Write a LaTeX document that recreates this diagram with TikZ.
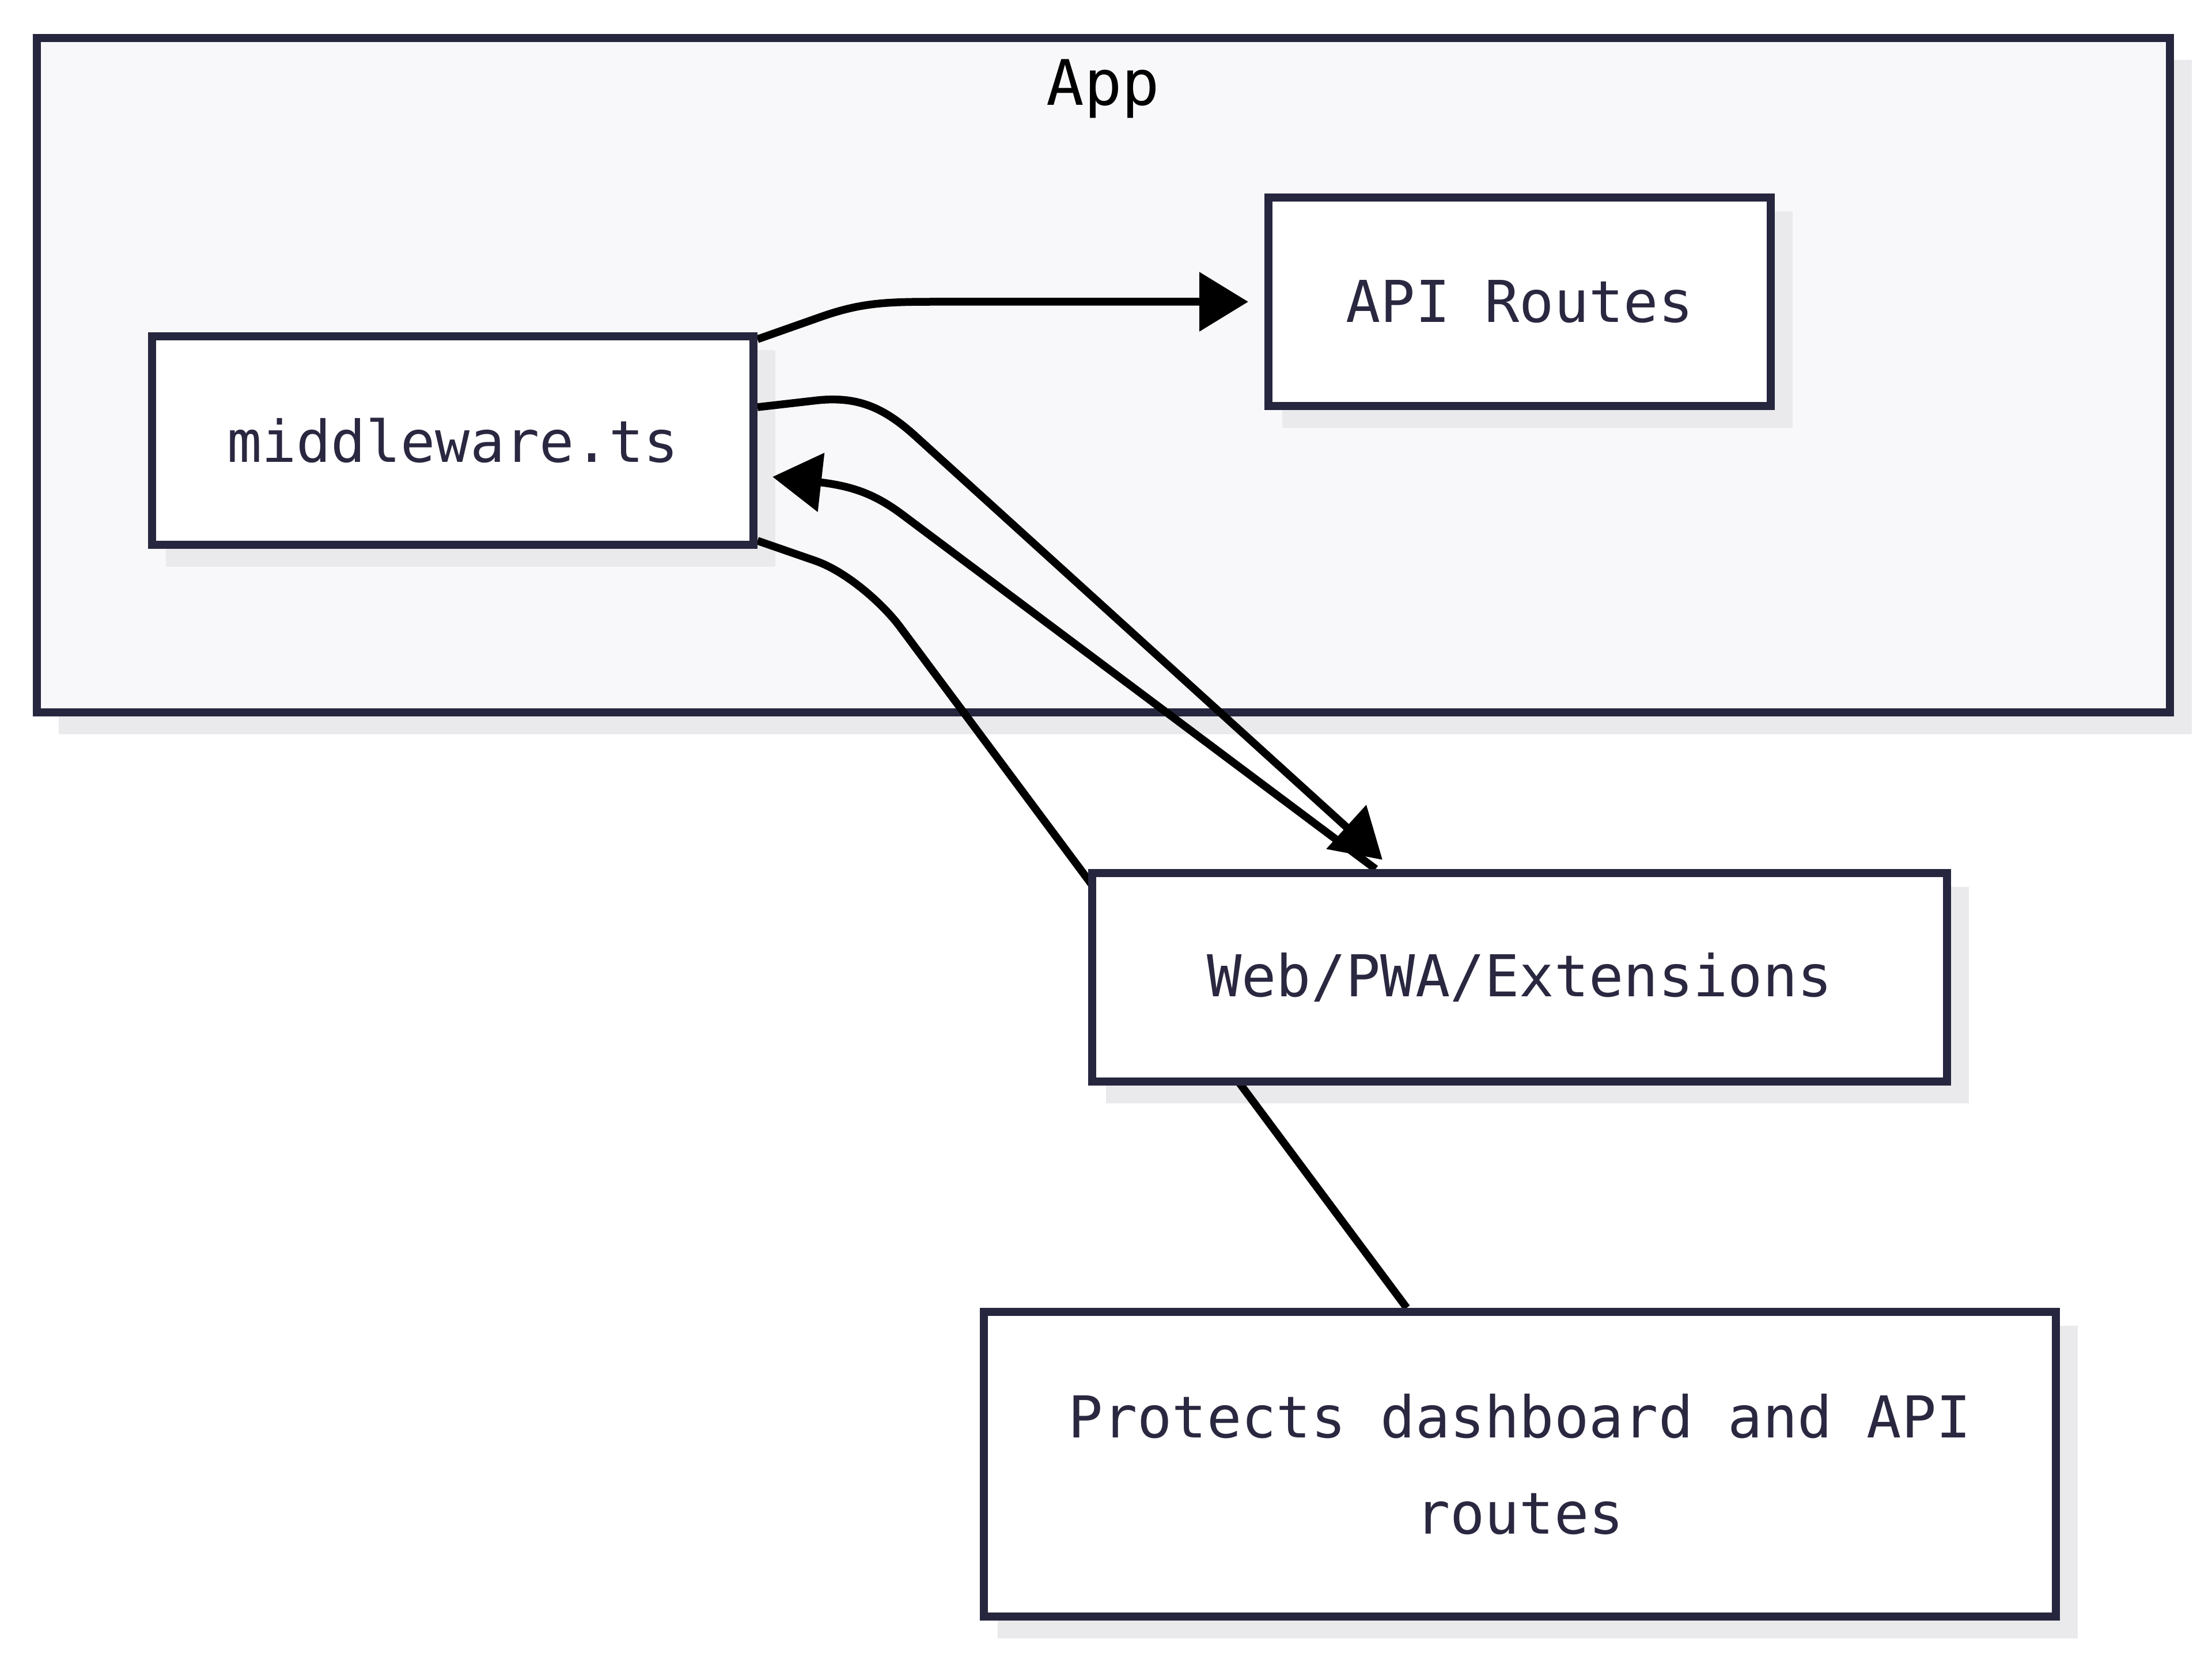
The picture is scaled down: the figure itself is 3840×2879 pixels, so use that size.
\documentclass[tikz,border=0pt]{standalone}
\usepackage{fontspec}
\setmainfont{DejaVu Sans Mono}
\usetikzlibrary{positioning,arrows.meta,shadows}
\definecolor{boxline}{RGB}{38,38,62}
\definecolor{boxtext}{RGB}{42,40,64}
\definecolor{appfill}{RGB}{248,248,250}
\definecolor{shadowgray}{RGB}{234,234,237}
\pgfdeclarelayer{back}
\pgfdeclarelayer{lines}
\pgfsetlayers{back,lines,main}
\tikzset{
  box/.style={draw=boxline, line width=1.4mm, fill=white, minimum height=36.2mm,
    text=boxtext, font=\fontsize{28.5}{47.5}\selectfont},
  link/.style={line width=1.35mm, black},
  linkarrow/.style={-{Triangle[length=8.5mm,width=10mm]}}
}

\begin{document}
\begin{tikzpicture}[x=0.1mm,y=-0.1mm]
      \useasboundingbox (0,0) rectangle (3840,2879);
      \begin{pgfonlayer}{back}
      \node[draw=boxline, line width=1.4mm, fill=appfill,
        drop shadow={shadow xshift=3.8mm,shadow yshift=-3.8mm,fill=shadowgray,opacity=1},
        minimum width=370.3mm, minimum height=117.1mm] (app) at (1915.5,651.5) {};
      \end{pgfonlayer}
      \node[anchor=base, font=\fontsize{31}{36}\selectfont] (applabel) at (1915,183) {App};
      \node[box, minimum width=104.4mm] (mw) at (786,765) {middleware.ts};
      \node[box, minimum width=87.2mm] (api) at (2638,524) {API Routes};
      \node[box, minimum width=148.4mm, below=79.7mm of api] (web) {Web/PWA/Extensions};
      \node[box, minimum width=186.1mm, minimum height=52.9mm, align=center,
        below=38.6mm of web] (note) {Protects dashboard and API\\routes};
      % shadows under the links
      \begin{pgfonlayer}{back}
      \foreach \n in {mw,api,web,note}
        \fill[shadowgray] ([shift={(3.1mm,-3.1mm)}]\n.south west) rectangle ([shift={(3.1mm,-3.1mm)}]\n.north east);
      \end{pgfonlayer}
      \begin{pgfonlayer}{lines}
      \draw[link, linkarrow] ([yshift=-1.2mm]mw.north east) -- (1420,552)
        .. controls (1490,527) and (1530,524) .. (1620,524) -- ([xshift=-2.8mm]api.west);
      \draw[link, linkarrow] ([yshift=5.8mm]mw.east) -- (1420,695)
        .. controls (1490,688) and (1535,708) .. (1590,758) -- ([xshift=-23.8mm,yshift=1.6mm]web.north);
      \draw[link, linkarrow] ([xshift=-25mm]web.north) -- (1567,894)
        .. controls (1519,858) and (1480,844) .. (1420,837) -- ([xshift=2.6mm,yshift=-6.3mm]mw.east);
      \draw[link] ([yshift=1.4mm]mw.south east) -- (1416,974)
        .. controls (1470,993) and (1532,1048) .. (1562,1088) -- ([xshift=-19.6mm]note.north);
      \end{pgfonlayer}
\end{tikzpicture}
\end{document}
